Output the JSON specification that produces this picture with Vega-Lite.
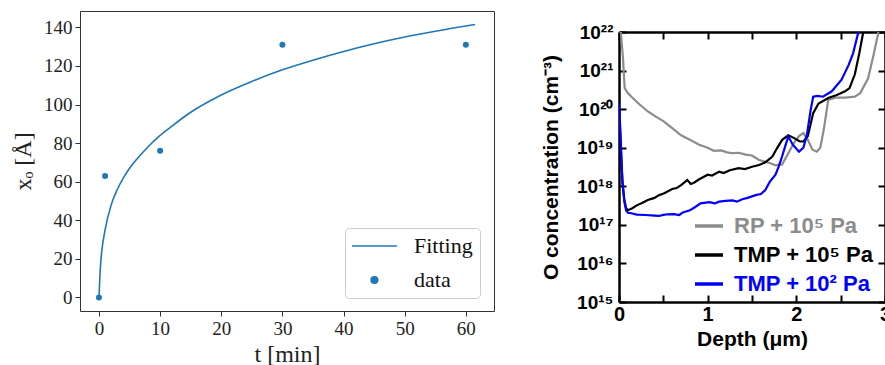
{
  "$schema": "https://vega.github.io/schema/vega-lite/v6.json",
  "background": "white",
  "padding": {"left": 11, "top": 10, "right": 0, "bottom": 0},
  "spacing": 45,
  "resolve": {
    "scale": {"color": "independent", "shape": "independent", "size": "independent"},
    "legend": {"color": "independent", "shape": "independent", "size": "independent"}
  },
  "config": {"view": {"stroke": null}},
  "datasets": {
    "fit": [
      {"t": 0, "x": 0}, {"t": 0.2, "x": 14}, {"t": 0.5, "x": 25}, {"t": 1, "x": 35}, {"t": 2, "x": 48},
      {"t": 3, "x": 56}, {"t": 4, "x": 62}, {"t": 5, "x": 67}, {"t": 6, "x": 71}, {"t": 8, "x": 78},
      {"t": 10, "x": 84}, {"t": 12, "x": 89}, {"t": 15, "x": 96}, {"t": 20, "x": 105}, {"t": 25, "x": 112},
      {"t": 30, "x": 118}, {"t": 35, "x": 123}, {"t": 40, "x": 127.5}, {"t": 45, "x": 131.5}, {"t": 50, "x": 135},
      {"t": 55, "x": 138}, {"t": 61.5, "x": 141.5}
    ],
    "pts": [
      {"t": 0, "x": 0, "series": "data"}, {"t": 1, "x": 63, "series": "data"}, {"t": 10, "x": 76, "series": "data"},
      {"t": 30, "x": 131, "series": "data"}, {"t": 60, "x": 131, "series": "data"}
    ],
    "oxy": [
      {"s": "RP + 10⁵ Pa", "d": 0.0, "c": 3e22}, {"s": "RP + 10⁵ Pa", "d": 0.02, "c": 1e22}, {"s": "RP + 10⁵ Pa", "d": 0.035, "c": 4e21},
      {"s": "RP + 10⁵ Pa", "d": 0.045, "c": 2.1e21}, {"s": "RP + 10⁵ Pa", "d": 0.055, "c": 8e20}, {"s": "RP + 10⁵ Pa", "d": 0.064, "c": 3.5e20},
      {"s": "RP + 10⁵ Pa", "d": 0.1, "c": 2.6e20}, {"s": "RP + 10⁵ Pa", "d": 0.14, "c": 2.1e20}, {"s": "RP + 10⁵ Pa", "d": 0.22, "c": 1.4e20},
      {"s": "RP + 10⁵ Pa", "d": 0.325, "c": 8.7e19}, {"s": "RP + 10⁵ Pa", "d": 0.42, "c": 6.3e19}, {"s": "RP + 10⁵ Pa", "d": 0.5, "c": 4.9e19},
      {"s": "RP + 10⁵ Pa", "d": 0.6, "c": 3.2e19}, {"s": "RP + 10⁵ Pa", "d": 0.7, "c": 2.1e19}, {"s": "RP + 10⁵ Pa", "d": 0.8, "c": 1.6e19},
      {"s": "RP + 10⁵ Pa", "d": 0.905, "c": 1.2e19}, {"s": "RP + 10⁵ Pa", "d": 1.0, "c": 1.0e19}, {"s": "RP + 10⁵ Pa", "d": 1.07, "c": 8.3e18},
      {"s": "RP + 10⁵ Pa", "d": 1.15, "c": 8.5e18}, {"s": "RP + 10⁵ Pa", "d": 1.22, "c": 7.6e18}, {"s": "RP + 10⁵ Pa", "d": 1.28, "c": 7.2e18},
      {"s": "RP + 10⁵ Pa", "d": 1.35, "c": 7.4e18}, {"s": "RP + 10⁵ Pa", "d": 1.43, "c": 6.6e18}, {"s": "RP + 10⁵ Pa", "d": 1.5, "c": 6.3e18},
      {"s": "RP + 10⁵ Pa", "d": 1.58, "c": 4.8e18}, {"s": "RP + 10⁵ Pa", "d": 1.7, "c": 4.0e18}, {"s": "RP + 10⁵ Pa", "d": 1.765, "c": 3.5e18},
      {"s": "RP + 10⁵ Pa", "d": 1.84, "c": 3.7e18}, {"s": "RP + 10⁵ Pa", "d": 1.91, "c": 7.2e18}, {"s": "RP + 10⁵ Pa", "d": 1.97, "c": 1.3e19},
      {"s": "RP + 10⁵ Pa", "d": 2.03, "c": 2.0e19}, {"s": "RP + 10⁵ Pa", "d": 2.08, "c": 2.4e19}, {"s": "RP + 10⁵ Pa", "d": 2.13, "c": 1.6e19},
      {"s": "RP + 10⁵ Pa", "d": 2.18, "c": 9e18}, {"s": "RP + 10⁵ Pa", "d": 2.23, "c": 7.9e18}, {"s": "RP + 10⁵ Pa", "d": 2.27, "c": 1.0e19},
      {"s": "RP + 10⁵ Pa", "d": 2.31, "c": 3e19}, {"s": "RP + 10⁵ Pa", "d": 2.36, "c": 1.74e20}, {"s": "RP + 10⁵ Pa", "d": 2.45, "c": 2.0e20},
      {"s": "RP + 10⁵ Pa", "d": 2.55, "c": 2.0e20}, {"s": "RP + 10⁵ Pa", "d": 2.66, "c": 2.1e20}, {"s": "RP + 10⁵ Pa", "d": 2.72, "c": 2.6e20},
      {"s": "RP + 10⁵ Pa", "d": 2.81, "c": 6.3e20}, {"s": "RP + 10⁵ Pa", "d": 2.87, "c": 2.5e21}, {"s": "RP + 10⁵ Pa", "d": 2.92, "c": 8.5e21},
      {"s": "RP + 10⁵ Pa", "d": 2.94, "c": 2e22},

      {"s": "TMP + 10⁵ Pa", "d": 0.0, "c": 1.0e20}, {"s": "TMP + 10⁵ Pa", "d": 0.01, "c": 4e19}, {"s": "TMP + 10⁵ Pa", "d": 0.02, "c": 1e19},
      {"s": "TMP + 10⁵ Pa", "d": 0.03, "c": 3e18}, {"s": "TMP + 10⁵ Pa", "d": 0.04, "c": 1.2e18}, {"s": "TMP + 10⁵ Pa", "d": 0.06, "c": 4.5e17},
      {"s": "TMP + 10⁵ Pa", "d": 0.08, "c": 2.7e17}, {"s": "TMP + 10⁵ Pa", "d": 0.1, "c": 2.4e17}, {"s": "TMP + 10⁵ Pa", "d": 0.15, "c": 2.7e17},
      {"s": "TMP + 10⁵ Pa", "d": 0.2, "c": 3.2e17}, {"s": "TMP + 10⁵ Pa", "d": 0.26, "c": 3.7e17}, {"s": "TMP + 10⁵ Pa", "d": 0.325, "c": 4.4e17},
      {"s": "TMP + 10⁵ Pa", "d": 0.4, "c": 5.0e17}, {"s": "TMP + 10⁵ Pa", "d": 0.45, "c": 5.9e17}, {"s": "TMP + 10⁵ Pa", "d": 0.51, "c": 6.6e17},
      {"s": "TMP + 10⁵ Pa", "d": 0.6, "c": 8.5e17}, {"s": "TMP + 10⁵ Pa", "d": 0.65, "c": 9.0e17}, {"s": "TMP + 10⁵ Pa", "d": 0.7, "c": 1.07e18},
      {"s": "TMP + 10⁵ Pa", "d": 0.77, "c": 1.45e18}, {"s": "TMP + 10⁵ Pa", "d": 0.81, "c": 1.15e18}, {"s": "TMP + 10⁵ Pa", "d": 0.85, "c": 1.26e18},
      {"s": "TMP + 10⁵ Pa", "d": 0.9, "c": 1.5e18}, {"s": "TMP + 10⁵ Pa", "d": 1.0, "c": 2.0e18}, {"s": "TMP + 10⁵ Pa", "d": 1.05, "c": 1.9e18},
      {"s": "TMP + 10⁵ Pa", "d": 1.13, "c": 2.4e18}, {"s": "TMP + 10⁵ Pa", "d": 1.18, "c": 2.2e18}, {"s": "TMP + 10⁵ Pa", "d": 1.25, "c": 2.6e18},
      {"s": "TMP + 10⁵ Pa", "d": 1.35, "c": 2.95e18}, {"s": "TMP + 10⁵ Pa", "d": 1.42, "c": 2.8e18}, {"s": "TMP + 10⁵ Pa", "d": 1.5, "c": 3.2e18},
      {"s": "TMP + 10⁵ Pa", "d": 1.58, "c": 3.55e18}, {"s": "TMP + 10⁵ Pa", "d": 1.65, "c": 4.2e18}, {"s": "TMP + 10⁵ Pa", "d": 1.73, "c": 5.9e18},
      {"s": "TMP + 10⁵ Pa", "d": 1.78, "c": 9.5e18}, {"s": "TMP + 10⁵ Pa", "d": 1.84, "c": 1.6e19}, {"s": "TMP + 10⁵ Pa", "d": 1.91, "c": 2.1e19},
      {"s": "TMP + 10⁵ Pa", "d": 1.97, "c": 1.8e19}, {"s": "TMP + 10⁵ Pa", "d": 2.04, "c": 1.45e19}, {"s": "TMP + 10⁵ Pa", "d": 2.08, "c": 1.45e19},
      {"s": "TMP + 10⁵ Pa", "d": 2.13, "c": 2.0e19}, {"s": "TMP + 10⁵ Pa", "d": 2.19, "c": 7.9e19}, {"s": "TMP + 10⁵ Pa", "d": 2.25, "c": 1.4e20},
      {"s": "TMP + 10⁵ Pa", "d": 2.36, "c": 1.95e20}, {"s": "TMP + 10⁵ Pa", "d": 2.45, "c": 2.3e20}, {"s": "TMP + 10⁵ Pa", "d": 2.55, "c": 2.9e20},
      {"s": "TMP + 10⁵ Pa", "d": 2.6, "c": 3.5e20}, {"s": "TMP + 10⁵ Pa", "d": 2.66, "c": 8e20}, {"s": "TMP + 10⁵ Pa", "d": 2.71, "c": 2.8e21},
      {"s": "TMP + 10⁵ Pa", "d": 2.755, "c": 1e22}, {"s": "TMP + 10⁵ Pa", "d": 2.77, "c": 2e22},

      {"s": "TMP + 10² Pa", "d": 0.0, "c": 1.4e20}, {"s": "TMP + 10² Pa", "d": 0.01, "c": 5e19}, {"s": "TMP + 10² Pa", "d": 0.02, "c": 1.5e19},
      {"s": "TMP + 10² Pa", "d": 0.03, "c": 4e18}, {"s": "TMP + 10² Pa", "d": 0.04, "c": 1.2e18}, {"s": "TMP + 10² Pa", "d": 0.06, "c": 4e17},
      {"s": "TMP + 10² Pa", "d": 0.08, "c": 2.4e17}, {"s": "TMP + 10² Pa", "d": 0.1, "c": 2.05e17}, {"s": "TMP + 10² Pa", "d": 0.14, "c": 2.0e17},
      {"s": "TMP + 10² Pa", "d": 0.2, "c": 1.85e17}, {"s": "TMP + 10² Pa", "d": 0.3, "c": 1.8e17}, {"s": "TMP + 10² Pa", "d": 0.4, "c": 1.74e17},
      {"s": "TMP + 10² Pa", "d": 0.45, "c": 1.7e17}, {"s": "TMP + 10² Pa", "d": 0.5, "c": 1.82e17}, {"s": "TMP + 10² Pa", "d": 0.55, "c": 1.88e17},
      {"s": "TMP + 10² Pa", "d": 0.62, "c": 1.9e17}, {"s": "TMP + 10² Pa", "d": 0.68, "c": 1.8e17}, {"s": "TMP + 10² Pa", "d": 0.72, "c": 2.1e17},
      {"s": "TMP + 10² Pa", "d": 0.8, "c": 2.4e17}, {"s": "TMP + 10² Pa", "d": 0.86, "c": 2.9e17}, {"s": "TMP + 10² Pa", "d": 0.92, "c": 3.6e17},
      {"s": "TMP + 10² Pa", "d": 1.02, "c": 3.9e17}, {"s": "TMP + 10² Pa", "d": 1.08, "c": 3.6e17}, {"s": "TMP + 10² Pa", "d": 1.13, "c": 4.0e17},
      {"s": "TMP + 10² Pa", "d": 1.2, "c": 4.2e17}, {"s": "TMP + 10² Pa", "d": 1.28, "c": 4.3e17}, {"s": "TMP + 10² Pa", "d": 1.33, "c": 4.0e17},
      {"s": "TMP + 10² Pa", "d": 1.39, "c": 4.6e17}, {"s": "TMP + 10² Pa", "d": 1.45, "c": 5.0e17}, {"s": "TMP + 10² Pa", "d": 1.54, "c": 5.9e17},
      {"s": "TMP + 10² Pa", "d": 1.6, "c": 6.3e17}, {"s": "TMP + 10² Pa", "d": 1.65, "c": 8.0e17}, {"s": "TMP + 10² Pa", "d": 1.7, "c": 1.3e18},
      {"s": "TMP + 10² Pa", "d": 1.765, "c": 2.0e18}, {"s": "TMP + 10² Pa", "d": 1.8, "c": 3.2e18}, {"s": "TMP + 10² Pa", "d": 1.84, "c": 6.0e18},
      {"s": "TMP + 10² Pa", "d": 1.88, "c": 1.2e19}, {"s": "TMP + 10² Pa", "d": 1.91, "c": 1.95e19}, {"s": "TMP + 10² Pa", "d": 1.96, "c": 1.2e19},
      {"s": "TMP + 10² Pa", "d": 2.03, "c": 7.9e18}, {"s": "TMP + 10² Pa", "d": 2.08, "c": 1.0e19}, {"s": "TMP + 10² Pa", "d": 2.12, "c": 2.2e19},
      {"s": "TMP + 10² Pa", "d": 2.16, "c": 9e19}, {"s": "TMP + 10² Pa", "d": 2.19, "c": 2.1e20}, {"s": "TMP + 10² Pa", "d": 2.24, "c": 2.2e20},
      {"s": "TMP + 10² Pa", "d": 2.3, "c": 2.1e20}, {"s": "TMP + 10² Pa", "d": 2.4, "c": 2.9e20}, {"s": "TMP + 10² Pa", "d": 2.51, "c": 5.8e20},
      {"s": "TMP + 10² Pa", "d": 2.59, "c": 1.4e21}, {"s": "TMP + 10² Pa", "d": 2.64, "c": 2.8e21}, {"s": "TMP + 10² Pa", "d": 2.7, "c": 1e22},
      {"s": "TMP + 10² Pa", "d": 2.71, "c": 1.5e22}
    ]
  },
  "hconcat": [
    {
      "width": 414,
      "height": 300,
      "view": {"stroke": "#333333", "strokeWidth": 1},
      "layer": [
        {
          "data": {"name": "fit"},
          "mark": {"type": "line", "color": "#1f77b4", "strokeWidth": 1.6, "interpolate": "monotone"},
          "encoding": {
            "x": {
              "field": "t", "type": "quantitative",
              "scale": {"domain": [-3.1, 64.6], "nice": false, "zero": false},
              "title": "t [min]",
              "axis": {
                "values": [0, 10, 20, 30, 40, 50, 60], "grid": false, "domain": false,
                "tickColor": "#333333", "tickSize": 5, "labelFlush": false,
                "labelFont": "Liberation Serif", "labelFontSize": 19, "labelColor": "#222222", "labelPadding": 3,
                "titleFont": "Liberation Serif", "titleFontSize": 24, "titleFontWeight": "normal", "titleColor": "#222222", "titlePadding": 4
              }
            },
            "y": {
              "field": "x", "type": "quantitative",
              "scale": {"domain": [-7, 148.5], "nice": false, "zero": false},
              "title": "xₒ [Å]",
              "axis": {
                "values": [0, 20, 40, 60, 80, 100, 120, 140], "grid": false, "domain": false,
                "tickColor": "#333333", "tickSize": 5,
                "labelFont": "Liberation Serif", "labelFontSize": 19, "labelColor": "#222222", "labelPadding": 3,
                "titleFont": "Liberation Serif", "titleFontSize": 24, "titleFontWeight": "normal", "titleColor": "#222222", "titlePadding": 8
              }
            }
          }
        },
        {
          "data": {"name": "pts"},
          "mark": {"type": "point", "filled": true, "opacity": 1, "size": 36, "color": "#1f77b4"},
          "encoding": {
            "x": {"field": "t", "type": "quantitative"},
            "y": {"field": "x", "type": "quantitative"}
          }
        },
        {
          "data": {"name": "pts"},
          "transform": [{"filter": "datum.t < -100"}],
          "mark": {"type": "point", "filled": true, "opacity": 1},
          "encoding": {
            "color": {"field": "series", "type": "nominal", "scale": {"domain": ["Fitting", "data"], "range": ["#1f77b4", "#1f77b4"]},
              "legend": {"title": null, "orient": "none", "legendX": 265, "legendY": 217, "padding": 7, "strokeColor": "#cccccc", "fillColor": "white", "cornerRadius": 4,
                "labelFont": "Liberation Serif", "labelFontSize": 22, "labelColor": "#111111", "labelOffset": 40, "rowPadding": 12,
                "symbolSize": 36, "symbolStrokeColor": "#1f77b4", "symbolStrokeWidth": 1.6,
                "encode": {"symbols": {"update": {"stroke": {"value": "#1f77b4"}, "strokeWidth": {"value": 1.6}}}}}},
            "shape": {"field": "series", "type": "nominal", "scale": {"domain": ["Fitting", "data"], "range": ["M-3.7,0H11.3", "M4.9,0A1.1,1.1 0 1,1 2.7,0A1.1,1.1 0 1,1 4.9,0Z"]},
              "legend": {"title": null, "orient": "none", "legendX": 265, "legendY": 217, "padding": 7, "strokeColor": "#cccccc", "fillColor": "white", "cornerRadius": 4,
                "labelFont": "Liberation Serif", "labelFontSize": 22, "labelColor": "#111111", "labelOffset": 40, "rowPadding": 12,
                "symbolSize": 36, "symbolStrokeColor": "#1f77b4", "symbolStrokeWidth": 1.6,
                "encode": {"symbols": {"update": {"stroke": {"value": "#1f77b4"}, "strokeWidth": {"value": 1.6}}}}}}
          }
        }
      ]
    },
    {
      "spacing": 0,
      "vconcat": [
        {
          "width": 10, "height": 2,
          "data": {"values": []},
          "mark": {"type": "point"},
          "encoding": {}
        },
        {
          "width": 266,
          "height": 270,
          "data": {"name": "oxy"},
          "resolve": {"axis": {"x": "independent", "y": "independent"}},
          "layer": [
            {
              "mark": {"type": "line", "strokeWidth": 2.2, "clip": true},
              "encoding": {
                "x": {
                  "field": "d", "type": "quantitative",
                  "scale": {"domain": [0, 3], "nice": false, "zero": false},
                  "title": "Depth (μm)",
                  "axis": {
                    "orient": "bottom", "values": [0, 0.5, 1, 1.5, 2, 2.5, 3], "grid": false,
                    "labelExpr": "datum.value % 1 === 0 ? format(datum.value, 'd') : ''",
                    "domainColor": "black", "domainWidth": 2.5, "tickColor": "black", "tickWidth": 2, "tickSize": -7,
                    "labelFont": "Liberation Sans", "labelFontWeight": "bold", "labelFontSize": 20, "labelColor": "black",
                    "labelPadding": 9, "labelFlush": false, "labelOverlap": false,
                    "titleFont": "Liberation Sans", "titleFontWeight": "bold", "titleFontSize": 21, "titleColor": "black", "titlePadding": 4
                  }
                },
                "y": {
                  "field": "c", "type": "quantitative",
                  "scale": {"type": "log", "domain": [1e15, 1e22], "nice": false},
                  "title": "O concentration (cm⁻³)",
                  "axis": {
                    "orient": "left", "values": [1e15, 1e16, 1e17, 1e18, 1e19, 1e20, 1e21, 1e22], "grid": false,
                    "labelExpr": "['10¹⁵','10¹⁶','10¹⁷','10¹⁸','10¹⁹','10²⁰','10²¹','10²²'][round(log(datum.value)/LN10) - 15]",
                    "domainColor": "black", "domainWidth": 2.5, "tickColor": "black", "tickWidth": 2, "tickSize": -7,
                    "labelFont": "Liberation Sans", "labelFontWeight": "bold", "labelFontSize": 19, "labelColor": "black",
                    "labelPadding": 13, "labelOverlap": false,
                    "titleFont": "Liberation Sans", "titleFontWeight": "bold", "titleFontSize": 21, "titleColor": "black", "titlePadding": 15
                  }
                },
                "color": {
                  "field": "s", "type": "nominal",
                  "scale": {"domain": ["RP + 10⁵ Pa", "TMP + 10⁵ Pa", "TMP + 10² Pa"], "range": ["#8c8c8c", "#000000", "#0000ff"]},
                  "legend": {
                    "title": null, "orient": "none", "legendX": 74, "legendY": 199, "padding": 0,
                    "symbolType": "stroke", "symbolSize": 784, "symbolStrokeWidth": 3.5,
                    "labelFont": "Liberation Sans", "labelFontWeight": "bold", "labelFontSize": 22, "labelOffset": 9, "rowPadding": 2,
                    "labelLimit": 300,
                    "encode": {"labels": {"update": {"fill": {"signal": "datum.value === 'RP + 10⁵ Pa' ? '#8c8c8c' : (datum.value === 'TMP + 10² Pa' ? '#0000ff' : '#000000')"}}}}
                  }
                }
              }
            },
            {
              "mark": {"type": "line", "opacity": 0},
              "encoding": {
                "x": {
                  "field": "d", "type": "quantitative",
                  "axis": {
                    "orient": "top", "values": [0, 0.5, 1, 1.5, 2, 2.5, 3], "grid": false, "labels": false, "title": null,
                    "domainColor": "black", "domainWidth": 2.5, "tickColor": "black", "tickWidth": 2, "tickSize": -7
                  }
                },
                "y": {
                  "field": "c", "type": "quantitative",
                  "axis": {
                    "orient": "right", "values": [1e15, 1e16, 1e17, 1e18, 1e19, 1e20, 1e21, 1e22], "grid": false, "labels": false, "title": null,
                    "domainColor": "black", "domainWidth": 2.5, "tickColor": "black", "tickWidth": 2, "tickSize": -7
                  }
                },
                "detail": {"field": "s"}
              }
            }
          ]
        }
      ]
    }
  ]
}
